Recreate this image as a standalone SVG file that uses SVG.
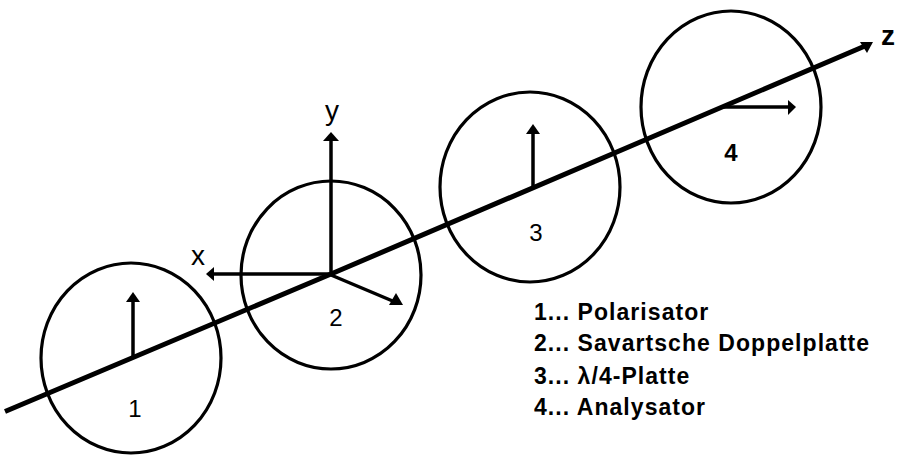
<svg xmlns="http://www.w3.org/2000/svg" width="910" height="460" viewBox="0 0 910 460">
<style>
text{font-family:"Liberation Sans",Arial,sans-serif;fill:#000}
.c{fill:none;stroke:#000;stroke-width:3.2}
.a{fill:none;stroke:#000;stroke-width:3.5}
.z{fill:none;stroke:#000;stroke-width:5}
.h{fill:#000;stroke:none}
.n{font-size:24px;text-anchor:middle}
.l{font-size:23px;font-weight:bold;letter-spacing:1.05px}
.v{font-size:28px;text-anchor:middle}
</style>
<rect width="910" height="460" fill="#fff"/>
<g id="node-1"><ellipse class="c" cx="131" cy="358" rx="90" ry="95"/><text class="n" x="135" y="417">1</text></g>
<g id="node-2"><ellipse class="c" cx="331" cy="275" rx="90" ry="94"/><text class="n" x="336" y="326">2</text></g>
<g id="node-3"><ellipse class="c" cx="530" cy="187" rx="90" ry="95"/><text class="n" x="536" y="241">3</text></g>
<g id="node-4"><ellipse class="c" cx="731" cy="107" rx="90" ry="96"/><text class="n" x="731" y="161" font-weight="bold">4</text></g>
<g id="connectors">
<path class="z" d="M5 411.500L331 274L865 46"/><path class="h" d="M873 42L860 42L867 53Z"/>
<path class="a" d="M133 358V300"/><path class="h" d="M133 292L126 302H140Z"/>
<path class="a" d="M331 275V140"/><path class="h" d="M331 132L323 141H339Z"/>
<path class="a" d="M331 274H212"/><path class="h" d="M206 274L214 267V281Z"/>
<path class="a" d="M331 275L395 302"/><path class="h" d="M403 305L389 305L396 293Z"/>
<path class="a" d="M533 187V132"/><path class="h" d="M533 124L526 134H540Z"/>
<path class="a" d="M722 107H790"/><path class="h" d="M796 107L788 100V115Z"/>
</g>
<g id="labels">
<text class="v" x="332" y="120">y</text>
<text class="v" x="198" y="265">x</text>
<text class="v" x="888" y="45" font-size="26" font-weight="bold">z</text>
<text class="l" x="534" y="320">1... Polarisator</text>
<text class="l" x="534" y="351">2... Savartsche Doppelplatte</text>
<text class="l" x="534" y="384">3... λ/4-Platte</text>
<text class="l" x="534" y="415">4... Analysator</text>
</g>
</svg>
